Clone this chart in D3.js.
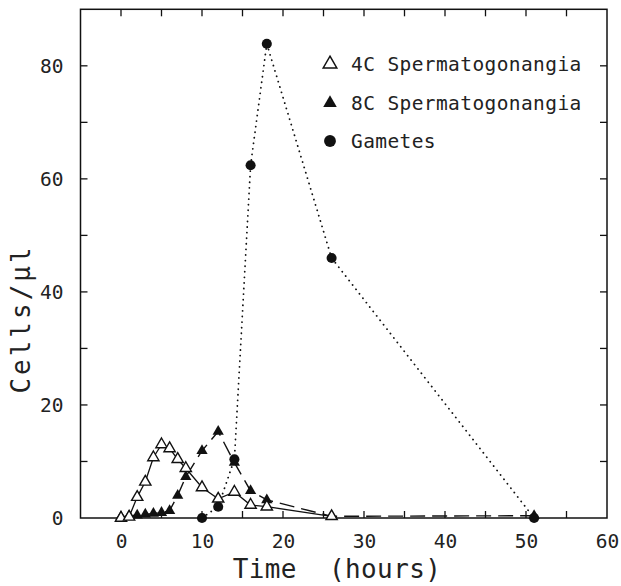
<!DOCTYPE html>
<html>
<head>
<meta charset="utf-8">
<script src="https://cdn.jsdelivr.net/npm/d3@7"></script>
<style>
  body { margin: 0; background: #fff; }
  svg text { font-family: "DejaVu Sans Mono", monospace; fill: #222; }
</style>
</head>
<body>
<svg id="chart" width="621" height="586"></svg>
<script>
// values (time in hours, cells per microlitre)
const hours4C = [0, 1, 2, 3, 4, 5, 6, 7, 8, 10, 12, 14, 16, 18, 26];
const cells4C = [0, 0.2, 3.7, 6.4, 10.7, 13, 12.3, 10.4, 8.8, 5.4, 3.4, 4.6, 2.3, 2.0, 0.3];

const hours8C = [0, 1, 2, 3, 4, 5, 6, 7, 8, 10, 12, 14, 16, 18, 26, 51];
const cells8C = [0.2, 0.35, 0.5, 0.65, 0.8, 0.95, 1.3, 4, 7.3, 11.9, 15.3, 9.8, 4.8, 3.2, 0.3, 0.4];

const hoursGam = [10, 12, 14, 16, 18, 26, 51];
const cellsGam = [0, 2, 10.4, 62.4, 83.9, 46, 0];

const xTicks = [0, 10, 20, 30, 40, 50, 60];
const yTicks = [0, 20, 40, 60, 80];
const legendLabels = ["4C Spermatogonangia", "8C Spermatogonangia", "Gametes"];

const svg = d3.select("#chart");
const plotL = 80.5, plotR = 607, plotT = 9.3, plotB = 518;

const x = d3.scaleLinear().domain([-5, 60]).range([plotL, plotR]);
const y = d3.scaleLinear().domain([0, 90]).range([plotB, plotT]);

const zip = (xs, ys) => xs.map((t, i) => [t, ys[i]]);
const data4C = zip(hours4C, cells4C);
const data8C = zip(hours8C, cells8C);
const dataGam = zip(hoursGam, cellsGam);

// frame
svg.append("rect")
  .attr("x", plotL).attr("y", plotT)
  .attr("width", plotR - plotL).attr("height", plotB - plotT)
  .attr("fill", "none").attr("stroke", "#111").attr("stroke-width", 1.5);

// inward ticks on all four sides
const tk = 7;
const xMinor = d3.range(0, 60, 5);
const yMinor = d3.range(10, 90, 10);
const axisBottom = d3.axisBottom(x).tickValues(xTicks).tickSize(0).tickPadding(16).tickFormat(d3.format("d"));
const axisLeft = d3.axisLeft(y).tickValues(yTicks).tickSize(0).tickPadding(17).tickFormat(d3.format("d"));

const gx = svg.append("g").attr("transform", `translate(0,${plotB})`).call(axisBottom);
const gy = svg.append("g").attr("transform", `translate(${plotL},0)`).call(axisLeft);
[gx, gy].forEach(g => {
  g.select(".domain").remove();
  g.selectAll("text").style("font-size", "19.5px").attr("fill", "#222");
});

const tickG = svg.append("g").attr("stroke", "#111").attr("stroke-width", 1.3);
xMinor.forEach(t => {
  tickG.append("line").attr("x1", x(t)).attr("x2", x(t)).attr("y1", plotB).attr("y2", plotB - tk);
  tickG.append("line").attr("x1", x(t)).attr("x2", x(t)).attr("y1", plotT).attr("y2", plotT + tk);
});
yMinor.forEach(v => {
  tickG.append("line").attr("x1", plotL).attr("x2", plotL + tk).attr("y1", y(v)).attr("y2", y(v));
  tickG.append("line").attr("x1", plotR).attr("x2", plotR - tk).attr("y1", y(v)).attr("y2", y(v));
});

// axis titles
svg.append("text")
  .attr("x", 337).attr("y", 578)
  .attr("text-anchor", "middle")
  .style("font-size", "26px").style("letter-spacing", "0.4px")
  .style("white-space", "pre")
  .text("Time  (hours)");
svg.append("text")
  .attr("transform", "translate(30,319) rotate(-90)")
  .attr("text-anchor", "middle")
  .style("font-size", "26px").style("letter-spacing", "3px")
  .text("Cells/\u00b5l");

// lines
const line = d3.line().x(d => x(d[0])).y(d => y(d[1]));

svg.append("path").datum(data8C)
  .attr("d", line).attr("fill", "none")
  .attr("stroke", "#111").attr("stroke-width", 1.4)
  .attr("stroke-dasharray", "15,7");

svg.append("path").datum(dataGam)
  .attr("d", line).attr("fill", "none")
  .attr("stroke", "#111").attr("stroke-width", 1.8)
  .attr("stroke-linecap", "round")
  .attr("stroke-dasharray", "0.1,5.5");

svg.append("path").datum(data4C)
  .attr("d", line).attr("fill", "none")
  .attr("stroke", "#111").attr("stroke-width", 1.3);

// markers
const tri = d3.symbol().type(d3.symbolTriangle).size(55);
const dot = d3.symbol().type(d3.symbolCircle).size(80);

svg.append("g").selectAll("path").data(data8C).join("path")
  .attr("transform", d => `translate(${x(d[0])},${y(d[1])})`)
  .attr("d", tri).attr("fill", "#111");

svg.append("g").selectAll("path").data(dataGam).join("path")
  .attr("transform", d => `translate(${x(d[0])},${y(d[1])})`)
  .attr("d", dot).attr("fill", "#111");

svg.append("g").selectAll("path").data(data4C).join("path")
  .attr("transform", d => `translate(${x(d[0])},${y(d[1])})`)
  .attr("d", tri).attr("fill", "#fff").attr("stroke", "#111").attr("stroke-width", 1.4);

// legend
const legendY = [64, 103, 141];
const legendSym = [
  {d: d3.symbol().type(d3.symbolTriangle).size(80)(), fill: "#fff", stroke: "#111"},
  {d: d3.symbol().type(d3.symbolTriangle).size(80)(), fill: "#111", stroke: "none"},
  {d: d3.symbol().type(d3.symbolCircle).size(110)(), fill: "#111", stroke: "none"}
];
const lg = svg.append("g");
legendLabels.forEach((lab, i) => {
  lg.append("path")
    .attr("transform", `translate(330,${legendY[i]})`)
    .attr("d", legendSym[i].d)
    .attr("fill", legendSym[i].fill)
    .attr("stroke", legendSym[i].stroke).attr("stroke-width", 1.5);
  lg.append("text")
    .attr("x", 351).attr("y", legendY[i] + 7)
    .style("font-size", "19.5px").style("letter-spacing", "0.4px")
    .text(lab);
});
</script>
</body>
</html>
